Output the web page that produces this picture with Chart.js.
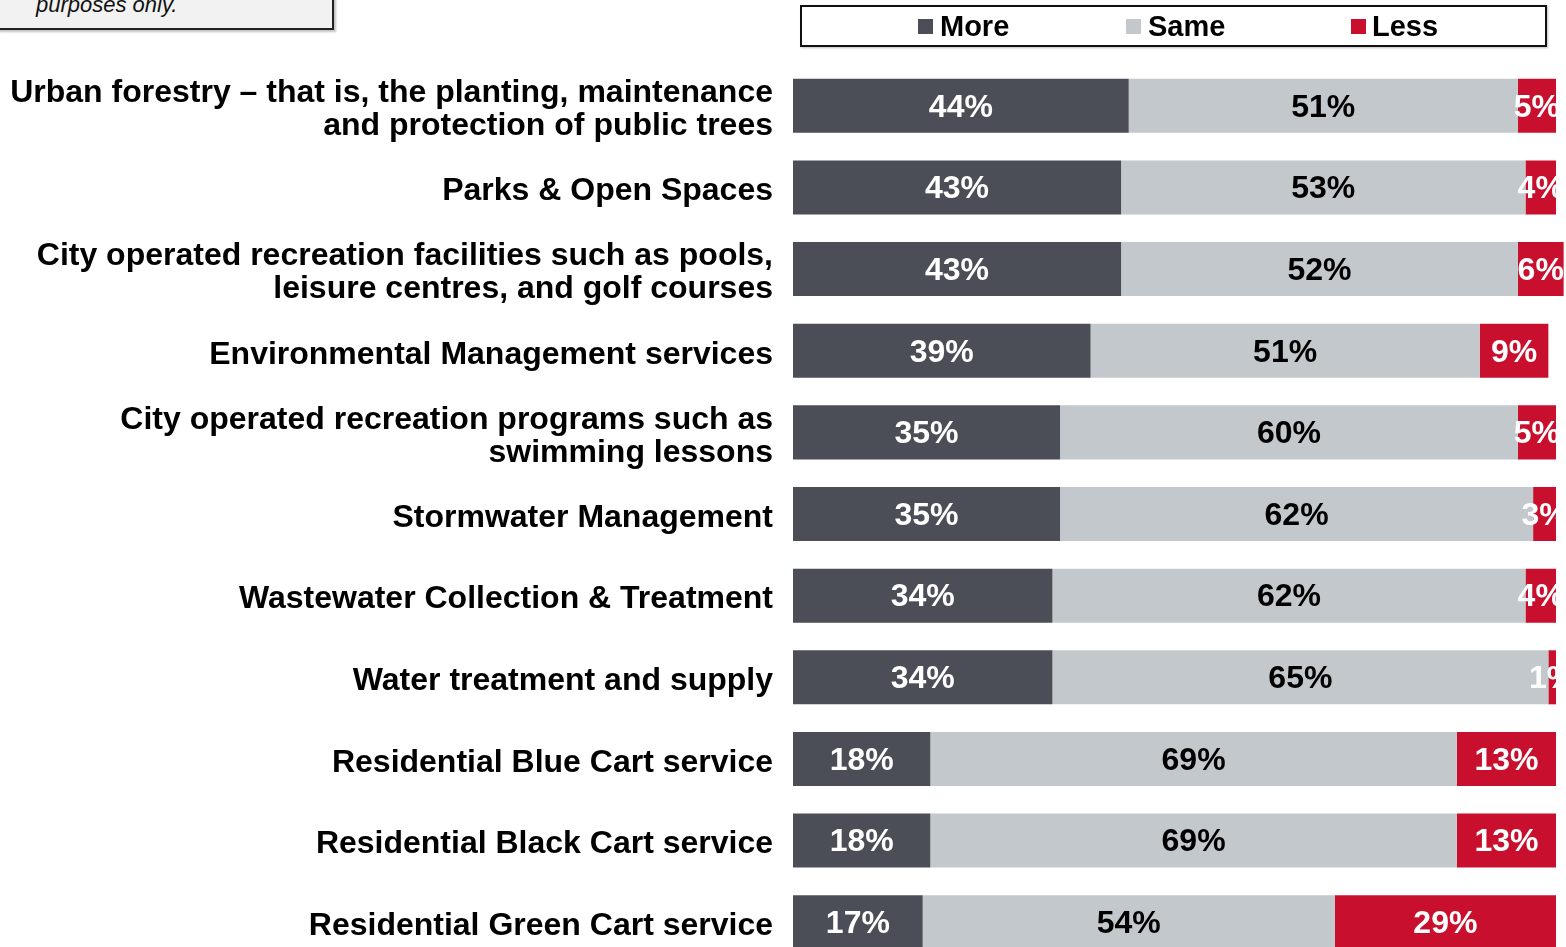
<!DOCTYPE html>
<html>
<head>
<meta charset="utf-8">
<script src="https://cdn.jsdelivr.net/npm/chart.js@4/dist/chart.umd.min.js"></script>
<style>
  html, body { margin: 0; padding: 0; background: #fff; overflow: hidden; width: 1566px; height: 947px; }
  #c { position: absolute; left: 0; top: 0; }
  #note { position: absolute; left: -3px; top: -50px; width: 333px; height: 76px; background: #f2f2f2;
          border: 2px solid #222; box-shadow: 2px 2px 2px rgba(0,0,0,0.25); }
  #note span { position: absolute; left: 37px; top: 41px; font: italic 22px "Liberation Sans", Arial, sans-serif;
               line-height: 24px; color: #111; white-space: nowrap; }
  #legend { position: absolute; left: 800px; top: 5px; width: 743px; height: 38px; border: 2px solid #111;
            box-shadow: 1px 1px 2px rgba(0,0,0,0.25); background: #fff; }
  .li { position: absolute; top: 0; height: 38px; font: bold 29px "Liberation Sans", Arial, sans-serif;
        line-height: 38px; color: #000; white-space: nowrap; }
  .sw { position: absolute; top: 12px; width: 15px; height: 15px; }
</style>
</head>
<body>
<div id="note"><span>purposes only.</span></div>
<canvas id="c" width="1566" height="1016"></canvas>
<div id="legend"></div>
<script>
const categories = [
  ["Urban forestry \u2013 that is, the planting, maintenance", "and protection of public trees"],
  "Parks & Open Spaces",
  ["City operated recreation facilities such as pools,", "leisure centres, and golf courses"],
  "Environmental Management services",
  ["City operated recreation programs such as", "swimming lessons"],
  "Stormwater Management",
  "Wastewater Collection & Treatment",
  "Water treatment and supply",
  "Residential Blue Cart service",
  "Residential Black Cart service",
  "Residential Green Cart service"
];
const seriesNames = ["More", "Same", "Less"];
const moreValues = [44, 43, 43, 39, 35, 35, 34, 34, 18, 18, 17];
const sameValues = [51, 53, 52, 51, 60, 62, 62, 65, 69, 69, 54];
const lessValues = [5, 4, 6, 9, 5, 3, 4, 1, 13, 13, 29];
const colors = ["#4b4e56", "#c2c8cb", "#c8102e"];
const labelColors = ["#ffffff", "#000000", "#ffffff"];

// legend (HTML)
const legendPos = [[116, 138], [324, 346], [549, 570]];
const legend = document.getElementById('legend');
seriesNames.forEach((n, i) => {
  const sw = document.createElement('div');
  sw.className = 'sw'; sw.style.left = legendPos[i][0] + 'px'; sw.style.background = colors[i];
  legend.appendChild(sw);
  const t = document.createElement('div');
  t.className = 'li'; t.style.left = legendPos[i][1] + 'px'; t.textContent = n;
  legend.appendChild(t);
});

const valueLabels = {
  id: 'valueLabels',
  afterDatasetsDraw(chart) {
    const ctx = chart.ctx;
    ctx.save();
    ctx.font = 'bold 32px "Liberation Sans", Arial, sans-serif';
    ctx.textAlign = 'center';
    ctx.textBaseline = 'middle';
    chart.data.datasets.forEach((ds, di) => {
      const meta = chart.getDatasetMeta(di);
      meta.data.forEach((bar, i) => {
        const v = ds.data[i];
        const p = bar.getProps(['x', 'base', 'y', 'height'], true);
        const right = Math.max(p.x, p.base);
        ctx.save();
        ctx.beginPath();
        ctx.rect(0, p.y - p.height / 2, right, p.height);
        ctx.clip();
        ctx.fillStyle = labelColors[di];
        ctx.fillText(v + '%', (p.x + p.base) / 2, p.y + 2);
        ctx.restore();
      });
    });
    ctx.restore();
  }
};

new Chart(document.getElementById('c'), {
  type: 'bar',
  data: {
    labels: categories,
    datasets: [
      { label: seriesNames[0], data: moreValues, backgroundColor: colors[0] },
      { label: seriesNames[1], data: sameValues, backgroundColor: colors[1] },
      { label: seriesNames[2], data: lessValues, backgroundColor: colors[2] }
    ]
  },
  options: {
    indexAxis: 'y',
    responsive: false,
    animation: false,
    layout: { padding: { top: 65, bottom: 0, right: 10, left: 0 } },
    datasets: { bar: { barPercentage: 0.662, categoryPercentage: 1, borderWidth: 0, clip: false } },
    plugins: { legend: { display: false }, tooltip: { enabled: false } },
    scales: {
      x: { stacked: true, min: 0, max: 100, display: false },
      y: {
        stacked: true,
        grid: { display: false, drawTicks: false },
        border: { display: false },
        afterFit(scale) { scale.width = 793; },
        ticks: {
          color: '#000',
          padding: 20,
          labelOffset: 4,
          font: { family: '"Liberation Sans", Arial, sans-serif', size: 32, weight: 'bold', lineHeight: 1.03 }
        }
      }
    }
  },
  plugins: [valueLabels]
});
</script>
</body>
</html>
